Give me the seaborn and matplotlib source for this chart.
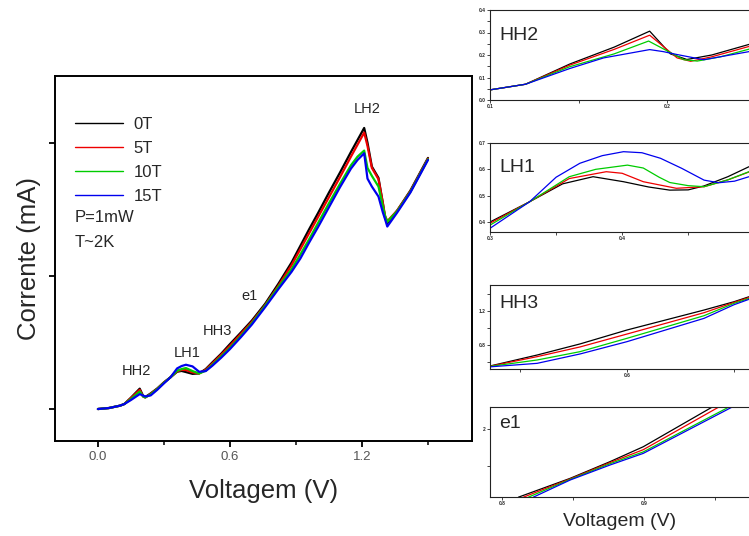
import numpy as np
import pandas as pd
import matplotlib
matplotlib.use("Agg")
import matplotlib.pyplot as plt
import seaborn as sns

# ---------------- data ----------------
series = ["0T", "5T", "10T", "15T"]
palette = ["#000000", "#ee0000", "#00cc00", "#0000ee"]

# main panel
volts_main = [0.00, 0.05, 0.10, 0.12, 0.15, 0.19, 0.205, 0.215, 0.24, 0.27, 0.30, 0.33, 0.36,
              0.38, 0.40, 0.43, 0.46, 0.49, 0.52, 0.56, 0.60, 0.65, 0.70, 0.76, 0.82, 0.88,
              0.92, 0.96, 1.00, 1.05, 1.10, 1.15, 1.18, 1.21, 1.225, 1.245, 1.275, 1.295,
              1.305, 1.315, 1.36, 1.42, 1.50]
cur_main_0T = [0.000, 0.015, 0.050, 0.075, 0.170, 0.306, 0.200, 0.180, 0.235, 0.310, 0.400, 0.477,
               0.560, 0.572, 0.555, 0.528, 0.535, 0.600, 0.700, 0.830, 0.975, 1.150, 1.330, 1.580,
               1.880, 2.200, 2.450, 2.700, 2.940, 3.250, 3.550, 3.860, 4.040, 4.220, 4.000, 3.640,
               3.470, 3.090, 2.870, 2.790, 2.980, 3.280, 3.770]
cur_main_5T = [0.000, 0.015, 0.050, 0.075, 0.165, 0.288, 0.187, 0.172, 0.228, 0.305, 0.400, 0.477,
               0.565, 0.588, 0.585, 0.550, 0.534, 0.590, 0.685, 0.815, 0.950, 1.130, 1.310, 1.560,
               1.850, 2.160, 2.400, 2.640, 2.880, 3.180, 3.480, 3.790, 3.970, 4.150, 3.950, 3.620,
               3.450, 3.090, 2.900, 2.820, 2.980, 3.270, 3.760]
cur_main_10T = [0.000, 0.015, 0.050, 0.075, 0.150, 0.262, 0.190, 0.174, 0.220, 0.300, 0.395, 0.477,
                0.575, 0.600, 0.615, 0.570, 0.534, 0.575, 0.665, 0.790, 0.920, 1.100, 1.290, 1.550,
                1.830, 2.100, 2.320, 2.550, 2.790, 3.090, 3.380, 3.660, 3.790, 3.880, 3.620, 3.500,
                3.340, 3.040, 2.900, 2.810, 2.970, 3.260, 3.750]
cur_main_15T = [0.000, 0.015, 0.050, 0.075, 0.135, 0.224, 0.203, 0.188, 0.205, 0.290, 0.385, 0.477,
                0.610, 0.645, 0.665, 0.640, 0.559, 0.570, 0.650, 0.770, 0.900, 1.080, 1.270, 1.530,
                1.800, 2.060, 2.260, 2.500, 2.730, 3.030, 3.330, 3.610, 3.740, 3.840, 3.460, 3.340,
                3.190, 2.950, 2.850, 2.740, 2.950, 3.250, 3.740]

# inset HH2
hh2_v_0T = [0.100, 0.120, 0.145, 0.170, 0.190, 0.2017, 0.211, 0.225, 0.246]
hh2_i_0T = [0.045, 0.070, 0.160, 0.235, 0.306, 0.205, 0.180, 0.200, 0.247]
hh2_v_5T = [0.100, 0.120, 0.145, 0.170, 0.190, 0.2055, 0.2131, 0.225, 0.246]
hh2_i_5T = [0.045, 0.070, 0.155, 0.225, 0.288, 0.187, 0.172, 0.192, 0.238]
hh2_v_10T = [0.100, 0.120, 0.145, 0.170, 0.1894, 0.2093, 0.2168, 0.230, 0.246]
hh2_i_10T = [0.045, 0.070, 0.148, 0.205, 0.262, 0.179, 0.173, 0.192, 0.226]
hh2_v_15T = [0.100, 0.120, 0.145, 0.164, 0.190, 0.1977, 0.2055, 0.2205, 0.246]
hh2_i_15T = [0.045, 0.070, 0.140, 0.187, 0.224, 0.215, 0.202, 0.179, 0.215]

# inset LH1
lh1_v_0T = [0.300, 0.330, 0.355, 0.378, 0.401, 0.420, 0.436, 0.450, 0.462, 0.480, 0.496]
lh1_i_0T = [0.400, 0.477, 0.545, 0.572, 0.553, 0.533, 0.521, 0.522, 0.537, 0.572, 0.610]
lh1_v_5T = [0.300, 0.330, 0.360, 0.388, 0.400, 0.416, 0.441, 0.462, 0.480, 0.496]
lh1_i_5T = [0.395, 0.477, 0.565, 0.591, 0.585, 0.553, 0.528, 0.534, 0.560, 0.590]
lh1_v_10T = [0.300, 0.330, 0.360, 0.380, 0.404, 0.416, 0.428, 0.436, 0.450, 0.462, 0.480, 0.496]
lh1_i_10T = [0.388, 0.477, 0.572, 0.600, 0.616, 0.605, 0.570, 0.550, 0.538, 0.534, 0.560, 0.591]
lh1_v_15T = [0.300, 0.330, 0.350, 0.368, 0.385, 0.401, 0.415, 0.429, 0.445, 0.462, 0.473, 0.485, 0.496]
lh1_i_15T = [0.376, 0.477, 0.570, 0.623, 0.652, 0.667, 0.663, 0.642, 0.604, 0.559, 0.549, 0.555, 0.572]

# inset HH3
hh3_v = [0.472, 0.516, 0.556, 0.600, 0.672, 0.700, 0.714]
hh3_i_0T = [0.555, 0.683, 0.812, 0.975, 1.208, 1.305, 1.363]
hh3_i_5T = [0.552, 0.664, 0.777, 0.928, 1.177, 1.297, 1.354]
hh3_i_10T = [0.550, 0.625, 0.722, 0.878, 1.142, 1.286, 1.343]
hh3_i_15T = [0.545, 0.586, 0.695, 0.839, 1.111, 1.270, 1.333]

# inset e1
e1_v_0T = [0.8115, 0.848, 0.876, 0.8995, 0.9477]
e1_i_0T = [1.631, 1.733, 1.823, 1.904, 2.117]
e1_v_5T = [0.8150, 0.848, 0.876, 0.8995, 0.9523]
e1_i_5T = [1.631, 1.730, 1.818, 1.888, 2.117]
e1_v_10T = [0.8185, 0.848, 0.876, 0.8995, 0.9594]
e1_i_10T = [1.631, 1.727, 1.812, 1.876, 2.117]
e1_v_15T = [0.8220, 0.848, 0.876, 0.8995, 0.9617]
e1_i_15T = [1.631, 1.724, 1.805, 1.868, 2.117]

peak_labels = ["HH2", "LH1", "HH3", "e1", "LH2"]
peak_label_v = [0.177, 0.407, 0.545, 0.690, 1.223]
peak_label_i = [0.511, 0.782, 1.113, 1.640, 4.450]


def long_df(vs, cs):
    rows = []
    for name, v, c in zip(series, vs, cs):
        rows.append(pd.DataFrame({"V": v, "I": c, "B": name}))
    return pd.concat(rows, ignore_index=True)


df_main = long_df([volts_main] * 4, [cur_main_0T, cur_main_5T, cur_main_10T, cur_main_15T])
df_hh2 = long_df([hh2_v_0T, hh2_v_5T, hh2_v_10T, hh2_v_15T], [hh2_i_0T, hh2_i_5T, hh2_i_10T, hh2_i_15T])
df_lh1 = long_df([lh1_v_0T, lh1_v_5T, lh1_v_10T, lh1_v_15T], [lh1_i_0T, lh1_i_5T, lh1_i_10T, lh1_i_15T])
df_hh3 = long_df([hh3_v] * 4, [hh3_i_0T, hh3_i_5T, hh3_i_10T, hh3_i_15T])
df_e1 = long_df([e1_v_0T, e1_v_5T, e1_v_10T, e1_v_15T], [e1_i_0T, e1_i_5T, e1_i_10T, e1_i_15T])

# ---------------- figure ----------------
sns.set_style("ticks")
plt.rcParams["font.family"] = ["Liberation Sans", "DejaVu Sans"]

W, H = 749, 536
fig = plt.figure(figsize=(W / 100, H / 100), dpi=100)


def px_rect(l, t, r, b):
    return [l / W, 1 - b / H, (r - l) / W, (b - t) / H]


ax = fig.add_axes(px_rect(55, 76, 472, 441))
sns.lineplot(data=df_main, x="V", y="I", hue="B", hue_order=series, palette=palette,
             estimator=None, sort=False, linewidth=1.6, ax=ax, legend=False)
ax.set_xlim(-0.195, 1.70)
ax.set_ylim(-0.48, 5.0)
ax.set_xticks([0.0, 0.6, 1.2])
ax.set_xticklabels(["0.0", "0.6", "1.2"])
ax.set_xticks([0.3, 0.9, 1.5], minor=True)
ax.set_yticks([0, 2, 4])
ax.set_yticklabels([])
for s in ax.spines.values():
    s.set_linewidth(1.4)
    s.set_color("black")
ax.tick_params(which="major", direction="out", length=4.5, width=1.3, labelsize=9.5,
               labelcolor="#555555", pad=3, color="black")
ax.tick_params(which="minor", direction="out", length=3, width=1.1, color="black")
ax.set_xlabel("Voltagem (V)", fontsize=18.5, labelpad=11)
ax.set_ylabel("Corrente (mA)", fontsize=18.5)
ax.yaxis.set_label_coords(-0.034, 0.5)

handles = ax.get_lines()[:4]
for h in handles:
    h.set_linewidth(1.0)
leg = ax.legend(handles, series, loc="upper left", bbox_to_anchor=(0.048, 0.887),
                frameon=False, borderpad=0, borderaxespad=0, handlelength=2.9,
                handletextpad=0.6, labelspacing=0.53, fontsize=12)
for h in handles:
    h.set_linewidth(1.6)
ax.text(0.048, 0.600, "P=1mW", transform=ax.transAxes, fontsize=12, va="baseline")
ax.text(0.048, 0.5315, "T~2K", transform=ax.transAxes, fontsize=12, va="baseline")
for lab, v, i in zip(peak_labels, peak_label_v, peak_label_i):
    ax.text(v, i, lab, fontsize=10.5, ha="center", va="baseline")


def make_inset(rect, df, xlim, ylim, xmaj, xlab, xmin, ymaj, ylab, ymin, name, name_y):
    a = fig.add_axes(rect)
    sns.lineplot(data=df, x="V", y="I", hue="B", hue_order=series, palette=palette,
                 estimator=None, sort=False, linewidth=0.9, ax=a, legend=False)
    a.set_xlim(*xlim)
    a.set_ylim(*ylim)
    a.set_xticks(xmaj)
    a.set_xticklabels(xlab)
    a.set_xticks(xmin, minor=True)
    a.set_yticks(ymaj)
    a.set_yticklabels(ylab)
    a.set_yticks(ymin, minor=True)
    a.spines["right"].set_visible(False)
    for k in ["left", "top", "bottom"]:
        a.spines[k].set_linewidth(0.8)
        a.spines[k].set_color("#222222")
    a.tick_params(which="both", direction="out", length=2, width=0.6, labelsize=3.5, pad=1)
    for t in a.get_xticklabels() + a.get_yticklabels():
        t.set_fontweight("bold")
    a.set_xlabel("")
    a.set_ylabel("")
    a.text(0.035, name_y, name, transform=a.transAxes, fontsize=14, va="baseline")
    return a


make_inset(px_rect(490, 10, 749, 100), df_hh2, (0.1, 0.246), (0.0, 0.4),
           [0.1, 0.2], ["0.1", "0.2"], [0.15],
           [0.0, 0.1, 0.2, 0.3, 0.4], ["0.0", "0.1", "0.2", "0.3", "0.4"],
           [0.05, 0.15, 0.25, 0.35], "HH2", 0.667)
make_inset(px_rect(490, 143, 749, 232), df_lh1, (0.3, 0.496), (0.362, 0.7),
           [0.3, 0.4], ["0.3", "0.4"], [0.35, 0.45],
           [0.4, 0.5, 0.6, 0.7], ["0.4", "0.5", "0.6", "0.7"], [],
           "LH1", 0.674)
make_inset(px_rect(490, 285, 749, 369), df_hh3, (0.472, 0.714), (0.52, 1.50),
           [0.6], ["0.6"], [0.5, 0.7],
           [0.8, 1.2], ["0.8", "1.2"], [0.6, 1.0, 1.4],
           "HH3", 0.726)
a4 = make_inset(px_rect(490, 407, 749, 497), df_e1, (0.7915, 0.974), (1.632, 2.119),
                [0.8, 0.9], ["0.8", "0.9"], [0.85, 0.95],
                [2.0], ["2"], [1.8],
                "e1", 0.767)
a4.set_xlabel("Voltagem (V)", fontsize=14, labelpad=5)

fig.savefig("out.png", dpi=100)
